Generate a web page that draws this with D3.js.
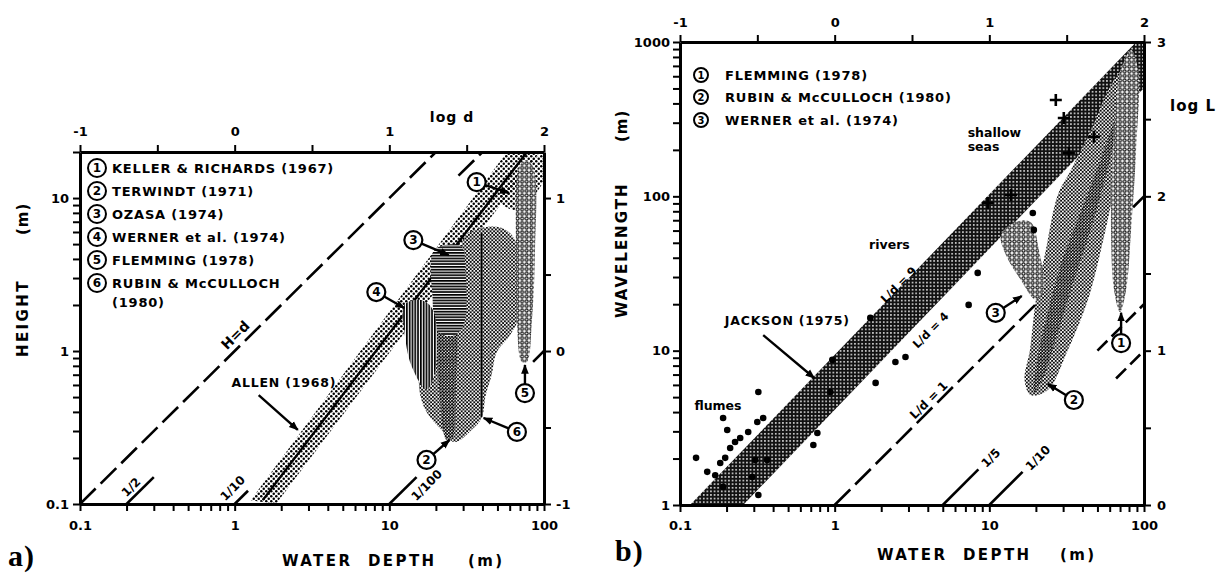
<!DOCTYPE html>
<html><head><meta charset="utf-8">
<script src="https://cdn.jsdelivr.net/npm/d3@7/dist/d3.min.js"></script>
<style>
html,body{margin:0;padding:0;background:#fff;}
svg text{font-weight:bold;fill:#000;}
</style></head><body>
<svg id="fig" width="1218" height="573"></svg>
<script>
// ================= DATA =================
const depthLabels = [[0.1,"0.1"],[1,"1"],[10,"10"],[100,"100"]];
const heightLabels = [[0.1,"0.1"],[1,"1"],[10,"10"]];
const wavelengthLabels = [[1,"1"],[10,"10"],[100,"100"],[1000,"1000"]];
const logDTicks = [-1,-0.5,0,0.5,1,1.5,2];
const logHTicks = [-1,-0.5,0,0.5,1];
const logLTicks = [0,0.5,1,1.5,2,2.5,3];

const legendA = ["KELLER & RICHARDS (1967)","TERWINDT (1971)","OZASA (1974)","WERNER et al. (1974)","FLEMMING (1978)","RUBIN & McCULLOCH"];
const legendA2 = "(1980)";
const legendB = ["FLEMMING (1978)","RUBIN & McCULLOCH (1980)","WERNER et al. (1974)"];

// Panel a: fields of bedform data, [depth d (m), height H (m)]
const allenBandA = [[1.27,0.106],[57.5,20],[94.2,20],[1.85,0.1]];
const allenLineA = [[1.52,0.106],[77.6,20]];
const rubinA = [[32.6,5.90],[51.0,6.46],[63.8,5.48],[69.8,2.91],[67.8,1.60],[59.3,1.24],[49.5,0.985],[45.9,0.70],[42.0,0.515],[39.5,0.365],[34.0,0.305],[26.4,0.254],[21.8,0.305],[17.4,0.40],[15.7,0.54],[15.7,0.75],[17.4,1.09],[21.1,1.60],[25.3,2.91],[28.5,4.57]];
const rubinAxisA = [[39.5,5.9],[39.5,0.37]];
const terwindtA = [[21.1,4.24],[24.5,4.4],[27.5,2.15],[27.0,0.65],[25.5,0.27],[23.5,0.262],[20.8,0.65],[19.8,2.15]];
const ozasaA = [[19.6,4.57],[29.0,4.85],[31.0,3.38],[30.0,1.45],[25.3,1.25],[20.6,1.35],[19.0,2.3]];
const wernerA = [[12.5,2.00],[16.1,2.15],[19.2,1.85],[19.8,0.75],[17.4,0.56],[13.9,0.8],[12.5,1.37]];
const flemmingA = [[69.8,16.4],[77.6,17.7],[86.1,15.2],[87.5,4.57],[83.6,1.60],[77.6,0.85],[71.9,0.85],[66.8,1.60],[65.8,4.57],[66.8,14.1]];
const kellerA = [[51.8,9.7],[63.8,13.5],[83.6,17.7],[100,19.1],[100,13.3],[81.1,9.7],[63.8,8.35]];
// ratio lines H = k*d, drawn over depth ranges
const ratioLinesA = [
  {k:1, d:[0.1,20], label:"H=d", at:[1.01,1.27]},
  {k:0.5, d:[0.2,0.3], label:"1/2", at:[0.214,0.129]},
  {k:0.5, d:[28,40]},
  {k:0.1, d:[1,1.22], label:"1/10", at:[0.97,0.127]},
  {k:0.01, d:[10,15], label:"1/100", at:[17.4,0.133]},
  {k:0.01, d:[85,100]}
];
// numbered call-outs: [number, circle (d,H), arrow tip (d,H)]
const calloutsA = [
  [1,[36.7,12.7],[59.3,10.8]],
  [3,[14.3,5.31],[24.2,4.24]],
  [4,[8.24,2.43],[12.5,1.91]],
  [5,[75.3,0.531],[75.3,0.81]],
  [6,[66.8,0.296],[40.7,0.365]],
  [2,[17.4,0.194],[24.5,0.262]]
];
const allenNoteA = {text:"ALLEN (1968)", at:[2.08,0.626], from:[1.43,0.515], to:[2.56,0.305]};

// Panel b: [depth d (m), wavelength L (m)]
const jacksonB = [[0.116,1],[89,1000],[100,1000],[100,504],[0.256,1]];
const wernerB = [[11.9,56.2],[14.8,68.2],[18.5,68.2],[20.9,45],[22.5,24.7],[20,21.3],[16,28.7],[12.8,41.7]];
const rubinB = [[18.5,5.16],[23.9,5.56],[32.2,10.1],[43.4,21.3],[52.7,45],[64,110],[73.3,232],[80,489],[73.3,659],[61.2,527],[45.4,269],[33.7,148],[27.7,102],[23.2,45],[20,21.3],[18.3,10.1],[16.9,6.46]];
const rubinCoreB = [[19.5,5.4],[22,6.5],[27,12],[35,28],[45,60],[56,130],[66,260],[72,420],[66,330],[52,170],[40,85],[30,40],[24,18],[20.5,9]];
const flemmingB = [[82.5,889],[91.6,659],[88.9,200],[82.5,60.6],[76.6,24.7],[70,17.8],[64,24.7],[61.2,60.6],[63.1,200],[71.1,659]];
const flumeDots = [[0.321,5.40],[0.190,3.66],[0.202,3.06],[0.127,2.02],[0.150,1.64],[0.169,1.56],[0.196,2.02],[0.211,2.34],[0.227,2.56],[0.245,2.72],[0.276,2.97],[0.316,3.45],[0.345,3.66],[0.321,1.16],[0.728,2.45],[0.773,2.93],[0.938,5.40],[0.182,1.87],[0.306,1.96],[0.366,1.96],[0.190,1.31],[0.293,1.52]];
const riverDots = [[1.84,6.18],[0.966,8.71],[1.70,16.3],[2.47,8.45],[2.87,9.10],[8.41,31.9],[7.35,19.8],[19.4,60.6],[19.1,78]];
const seaCrosses = [[26.9,421],[30.3,322],[47.5,243],[32.7,191],[9.77,90.6],[13.8,102]];
const ratioLinesB = [
  {k:1, d:[1,20], label:"L/d = 1", at:[4.05,4.79]},
  {k:1, d:[85,100]},
  {k:0.2, d:[5,8.5], label:"1/5", at:[10.2,2.02]},
  {k:0.2, d:[50,100]},
  {k:0.1, d:[10,16.4], label:"1/10", at:[20.6,2.02]},
  {k:0.1, d:[66,100]}
];
const bandLabelsB = [{text:"L/d = 9", at:[2.59,26.7]},{text:"L/d = 4", at:[4.17,13.6]}];
const calloutsB = [
  [3,[11.0,17.6],[16.2,22.6]],
  [1,[71.1,11.2],[71.1,17.6]],
  [2,[35.2,4.79],[23.9,6.08]]
];
const jacksonNoteB = {text:"JACKSON (1975)", at:[0.494,15.6], from:[0.345,12.6], to:[0.738,6.65]};
const wordsB = [{text:"flumes", at:[0.176,4.38]},{text:"rivers", at:[2.26,48.4]},{text:"shallow", at:[7.24,243], left:true},{text:"seas", at:[7.24,197], left:true}];

// ================= DRAWING =================
const SANS = '"DejaVu Sans", sans-serif';
const svg = d3.select("#fig");
const defs = svg.append("defs");
function pattern(id,w,h,bg){const p=defs.append("pattern").attr("id",id).attr("patternUnits","userSpaceOnUse").attr("width",w).attr("height",h); if(bg) p.append("rect").attr("width",w).attr("height",h).attr("fill",bg); return p;}
let p;
p = pattern("stip",5,5); p.append("circle").attr("cx",1.25).attr("cy",1.25).attr("r",1.25); p.append("circle").attr("cx",3.75).attr("cy",3.75).attr("r",1.25);
p = pattern("dense",3.6,3.6,"#fff"); p.append("circle").attr("cx",0.9).attr("cy",0.9).attr("r",1.05); p.append("circle").attr("cx",2.7).attr("cy",2.7).attr("r",1.05);
p = pattern("dense2",3.2,3.2,"#fff"); p.append("circle").attr("cx",0.8).attr("cy",0.8).attr("r",1.15); p.append("circle").attr("cx",2.4).attr("cy",2.4).attr("r",1.15);
p = pattern("hatchH",4,2.8,"#fff"); p.append("rect").attr("width",4).attr("height",1.7);
p = pattern("hatchV",2.8,4,"#fff"); p.append("rect").attr("width",1.7).attr("height",4);
p = pattern("cross",3.6,3.6,"#111"); p.append("rect").attr("x",1).attr("y",1).attr("width",1.5).attr("height",1.5).attr("fill","#fff");
p = pattern("ring",4.6,4.6,"#fff"); p.append("circle").attr("cx",2.3).attr("cy",2.3).attr("r",1.5).attr("fill","none").attr("stroke","#000").attr("stroke-width",1.1);
defs.append("marker").attr("id","arr").attr("viewBox","0 0 10 10").attr("refX",9).attr("refY",5)
  .attr("markerWidth",4).attr("markerHeight",4).attr("orient","auto")
  .append("path").attr("d","M0,1L10,5L0,9z").attr("fill","#000");

function minorTicks(lo,hi){const t=[];for(let e=-2;e<=4;e++)for(let m=1;m<10;m++){const v=+(m*10**e).toPrecision(3);if(v>=lo-1e-9&&v<=hi+1e-9)t.push(v);}return t;}
function styleAxis(g,fs){g.select(".domain").attr("stroke","#000").attr("stroke-width",3);g.selectAll(".tick line").attr("stroke","#000").attr("stroke-width",2);g.selectAll(".tick text").attr("font-size",fs).style("font-family",SANS).attr("font-weight","bold");}
const fmtInt = v => Number.isInteger(v) ? String(v) : "";
function txt(sel){return sel.append("text").style("font-family",SANS);}

function panel(cfg){
  const x = d3.scaleLog().domain(cfg.xd).range(cfg.xr);
  const y = d3.scaleLog().domain(cfg.yd).range(cfg.yr);
  const g = svg.append("g");
  const clipId = "clip"+cfg.id;
  defs.append("clipPath").attr("id",clipId).append("rect").attr("x",cfg.xr[0]).attr("y",cfg.yr[1]).attr("width",cfg.xr[1]-cfg.xr[0]).attr("height",cfg.yr[0]-cfg.yr[1]);
  const plot = g.append("g").attr("clip-path",`url(#${clipId})`);
  return {x,y,g,plot};
}
function area(sel,sc,data,fill,curve){
  const gen=d3.line().x(d=>sc.x(d[0])).y(d=>sc.y(d[1])).curve(curve||d3.curveLinearClosed);
  return sel.append("path").attr("d",gen(data)).attr("fill",fill);
}
function seg(sel,sc,data,dash,w){
  const gen=d3.line().x(d=>sc.x(d[0])).y(d=>sc.y(d[1]));
  sel.append("path").attr("d",gen(data)).attr("fill","none").attr("stroke","#000").attr("stroke-width",w||2.6).attr("stroke-dasharray",dash||null);
}
function callout(sel,sc,c,r,fs){
  const [n,pos,tip]=c;
  const cx=sc.x(pos[0]), cy=sc.y(pos[1]), tx=sc.x(tip[0]), ty=sc.y(tip[1]);
  const a=Math.atan2(ty-cy,tx-cx);
  sel.append("line").attr("x1",cx+Math.cos(a)*r).attr("y1",cy+Math.sin(a)*r).attr("x2",tx).attr("y2",ty)
    .attr("stroke","#000").attr("stroke-width",2.4).attr("marker-end","url(#arr)");
  sel.append("circle").attr("cx",cx).attr("cy",cy).attr("r",r).attr("fill","#fff").attr("stroke","#000").attr("stroke-width",2.2);
  txt(sel).attr("x",cx).attr("y",cy).attr("dy","0.36em").attr("text-anchor","middle").attr("font-size",fs).text(n);
}
function numCircle(sel,x,y,r,n,fs){
  sel.append("circle").attr("cx",x).attr("cy",y).attr("r",r).attr("fill","#fff").attr("stroke","#000").attr("stroke-width",2);
  txt(sel).attr("x",x).attr("y",y).attr("dy","0.36em").attr("text-anchor","middle").attr("font-size",fs).text(n);
}

// ---------- PANEL A ----------
const A = panel({id:"A", xd:[0.1,100], xr:[80,544], yd:[0.1,20], yr:[504,152]});
{
  const sc=A, pl=A.plot;
  area(pl,sc,allenBandA,"url(#stip)");
  seg(pl,sc,allenLineA,null,2.4);
  area(pl,sc,rubinA,"url(#dense)",d3.curveCatmullRomClosed);
  seg(pl,sc,rubinAxisA,null,1.6);
  area(pl,sc,terwindtA,"url(#dense2)",d3.curveCatmullRomClosed);
  area(pl,sc,ozasaA,"url(#hatchH)",d3.curveCatmullRomClosed);
  area(pl,sc,wernerA,"url(#hatchV)",d3.curveCatmullRomClosed);
  area(pl,sc,kellerA,"url(#stip)",d3.curveCatmullRomClosed);
  area(pl,sc,flemmingA,"url(#ring)",d3.curveCatmullRomClosed);
  ratioLinesA.forEach(r=>{
    const pts=r.d.map(d=>[d,r.k*d]);
    seg(pl,sc,pts,(r.k===1||(r.k===0.5&&!r.label))?"22,7":null,2.6);
    if(r.label){
      txt(pl).attr("transform",`translate(${sc.x(r.at[0])},${sc.y(r.at[1])}) rotate(-45)`)
        .attr("text-anchor","middle").attr("dy","0.35em").attr("font-size",r.k===1?14:12).text(r.label);
    }
  });
  calloutsA.forEach(c=>callout(A.g,sc,c,9,12));
  const n=allenNoteA;
  A.g.append("line").attr("x1",sc.x(n.from[0])).attr("y1",sc.y(n.from[1])).attr("x2",sc.x(n.to[0])).attr("y2",sc.y(n.to[1]))
    .attr("stroke","#000").attr("stroke-width",2.4).attr("marker-end","url(#arr)");
  txt(A.g).attr("x",sc.x(n.at[0])).attr("y",sc.y(n.at[1])).attr("dy","0.35em").attr("text-anchor","middle").attr("font-size",12.5).attr("letter-spacing",0.8).text(n.text);

  const g=A.g;
  g.append("g").attr("transform","translate(0,504)").call(d3.axisBottom(sc.x).tickValues(minorTicks(0.1,100)).tickSize(7).tickPadding(10).tickSizeOuter(0).tickFormat(v=>new Map(depthLabels).get(v)||"")).call(s=>styleAxis(s,13));
  g.append("g").attr("transform","translate(80,0)").call(d3.axisLeft(sc.y).tickValues(minorTicks(0.1,20)).tickSize(7).tickPadding(4).tickSizeOuter(0).tickFormat(v=>new Map(heightLabels).get(v)||"")).call(s=>styleAxis(s,13));
  const top=d3.scaleLinear().domain([-1,2]).range([80,544]);
  g.append("g").attr("transform","translate(0,152)").call(d3.axisTop(top).tickValues(logDTicks).tickSize(7).tickPadding(9).tickSizeOuter(0).tickFormat(fmtInt)).call(s=>styleAxis(s,13));
  const rgt=d3.scaleLinear().domain([-1,Math.log10(20)]).range([504,152]);
  g.append("g").attr("transform","translate(544,0)").call(d3.axisRight(rgt).tickValues(logHTicks).tickSize(7).tickPadding(5).tickSizeOuter(0).tickFormat(fmtInt)).call(s=>styleAxis(s,13));

  txt(g).attr("x",452).attr("y",122).attr("text-anchor","middle").attr("font-size",14).attr("letter-spacing",1).text("log d");
  const xt=txt(g).attr("y",566).attr("font-size",15).attr("letter-spacing",2.4);
  xt.append("tspan").attr("x",282).text("WATER");
  xt.append("tspan").attr("x",368).text("DEPTH");
  xt.append("tspan").attr("x",468).text("(m)");
  txt(g).attr("transform","translate(28,357) rotate(-90)").attr("font-size",15).attr("letter-spacing",2.4).text("HEIGHT");
  txt(g).attr("transform","translate(28,235) rotate(-90)").attr("font-size",15).attr("letter-spacing",1).text("(m)");
  g.append("text").attr("x",8).attr("y",566).style("font-family",'"Liberation Serif", serif').attr("font-size",30).attr("letter-spacing",1).text("a)");

  legendA.forEach((t,i)=>{
    const yy=168+i*23;
    numCircle(g,97,yy,9,i+1,12);
    txt(g).attr("x",112).attr("y",yy).attr("dy","0.36em").attr("font-size",13).attr("letter-spacing",0.8).text(t);
  });
  txt(g).attr("x",112).attr("y",168+6*23-4).attr("dy","0.36em").attr("font-size",13).attr("letter-spacing",0.8).text(legendA2);
}

// ---------- PANEL B ----------
const B = panel({id:"B", xd:[0.1,100], xr:[680,1144], yd:[1,1000], yr:[505,42]});
{
  const sc=B, pl=B.plot;
  area(pl,sc,jacksonB,"url(#cross)");
  area(pl,sc,rubinB,"url(#dense)",d3.curveCatmullRomClosed);
  area(pl,sc,rubinCoreB,"url(#dense2)",d3.curveCatmullRomClosed);
  area(pl,sc,wernerB,"url(#ring)",d3.curveCatmullRomClosed);
  area(pl,sc,flemmingB,"url(#ring)",d3.curveCatmullRomClosed);
  pl.selectAll("circle.dot").data(flumeDots.concat(riverDots)).join("circle").attr("class","dot")
    .attr("cx",d=>sc.x(d[0])).attr("cy",d=>sc.y(d[1])).attr("r",3.3).attr("fill","#000");
  pl.selectAll("path.cross").data(seaCrosses).join("path").attr("class","cross")
    .attr("d",d=>{const x=sc.x(d[0]),y=sc.y(d[1]);return `M${x-6},${y}H${x+6}M${x},${y-6}V${y+6}`;})
    .attr("stroke","#000").attr("stroke-width",2.6);
  ratioLinesB.forEach(r=>{
    const pts=r.d.map(d=>[d,r.k*d]);
    seg(pl,sc,pts,(r.k===1&&r.label)?"22,7":(r.d[1]===100&&r.k<1?"14,6":null),2.6);
    if(r.label){
      txt(pl).attr("transform",`translate(${sc.x(r.at[0])},${sc.y(r.at[1])}) rotate(-45)`)
        .attr("text-anchor","middle").attr("dy","0.35em").attr("font-size",12).text(r.label);
    }
  });
  bandLabelsB.forEach(b=>txt(pl).attr("transform",`translate(${sc.x(b.at[0])},${sc.y(b.at[1])}) rotate(-45)`)
    .attr("text-anchor","middle").attr("dy","0.35em").attr("font-size",11.5).text(b.text));
  wordsB.forEach(w=>txt(pl).attr("x",sc.x(w.at[0])).attr("y",sc.y(w.at[1])).attr("text-anchor",w.left?"start":"middle").attr("dy",w.left?null:"0.35em").attr("font-size",12.5).text(w.text));
  calloutsB.forEach(c=>callout(B.g,sc,c,9,12));
  const n=jacksonNoteB;
  B.g.append("line").attr("x1",sc.x(n.from[0])).attr("y1",sc.y(n.from[1])).attr("x2",sc.x(n.to[0])).attr("y2",sc.y(n.to[1]))
    .attr("stroke","#000").attr("stroke-width",2.4).attr("marker-end","url(#arr)");
  txt(B.g).attr("x",sc.x(n.at[0])).attr("y",sc.y(n.at[1])).attr("dy","0.35em").attr("text-anchor","middle").attr("font-size",12.5).attr("letter-spacing",0.8).text(n.text);

  const g=B.g;
  g.append("g").attr("transform","translate(0,505)").call(d3.axisBottom(sc.x).tickValues(minorTicks(0.1,100)).tickSize(7).tickPadding(9).tickSizeOuter(0).tickFormat(v=>new Map(depthLabels).get(v)||"")).call(s=>styleAxis(s,13));
  g.append("g").attr("transform","translate(680,0)").call(d3.axisLeft(sc.y).tickValues(minorTicks(1,1000)).tickSize(7).tickPadding(3).tickSizeOuter(0).tickFormat(v=>new Map(wavelengthLabels).get(v)||"")).call(s=>styleAxis(s,13));
  const top=d3.scaleLinear().domain([-1,2]).range([680,1144]);
  g.append("g").attr("transform","translate(0,42)").call(d3.axisTop(top).tickValues(logDTicks).tickSize(7).tickPadding(8).tickSizeOuter(0).tickFormat(fmtInt)).call(s=>styleAxis(s,13));
  const rgt=d3.scaleLinear().domain([0,3]).range([505,42]);
  g.append("g").attr("transform","translate(1144,0)").call(d3.axisRight(rgt).tickValues(logLTicks).tickSize(7).tickPadding(6).tickSizeOuter(0).tickFormat(fmtInt)).call(s=>styleAxis(s,13));

  txt(g).attr("x",1193).attr("y",111).attr("text-anchor","middle").attr("font-size",15).attr("letter-spacing",1).text("log L");
  const xt=txt(g).attr("y",560).attr("font-size",15).attr("letter-spacing",2.4);
  xt.append("tspan").attr("x",877).text("WATER");
  xt.append("tspan").attr("x",963).text("DEPTH");
  xt.append("tspan").attr("x",1060).text("(m)");
  txt(g).attr("transform","translate(627,318) rotate(-90)").attr("font-size",15).attr("letter-spacing",2).text("WAVELENGTH");
  txt(g).attr("transform","translate(627,142) rotate(-90)").attr("font-size",15).attr("letter-spacing",1).text("(m)");
  g.append("text").attr("x",615).attr("y",561).style("font-family",'"Liberation Serif", serif').attr("font-size",30).attr("letter-spacing",1).text("b)");

  legendB.forEach((t,i)=>{
    const yy=[75,97,120][i];
    numCircle(g,701,yy,7,i+1,10);
    txt(g).attr("x",725).attr("y",yy).attr("dy","0.36em").attr("font-size",13).attr("letter-spacing",0.8).text(t);
  });
}
</script></body></html>
